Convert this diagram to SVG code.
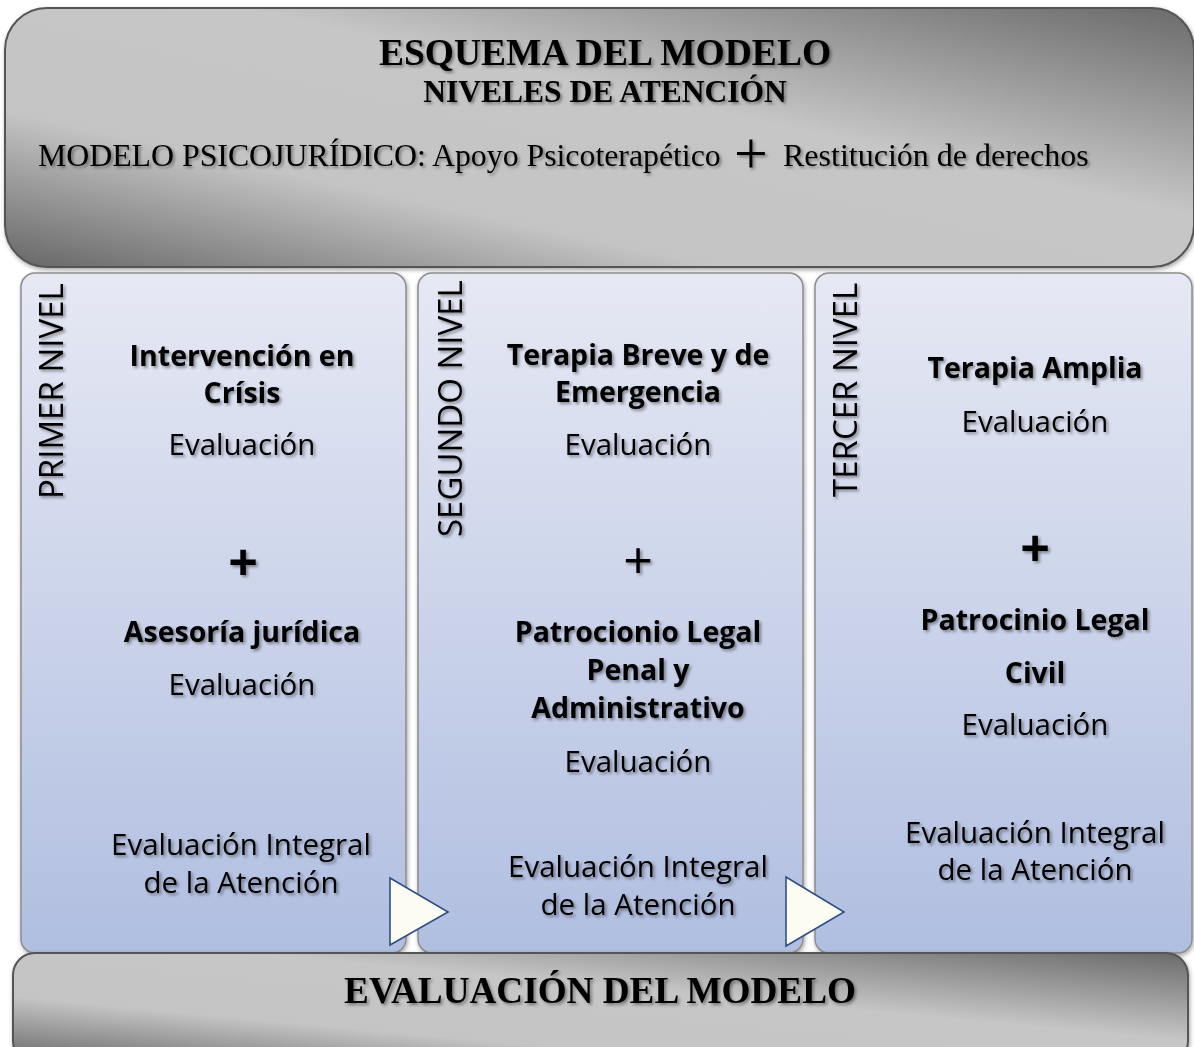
<svg xmlns="http://www.w3.org/2000/svg" width="1194" height="1047" viewBox="0 0 1194 1047">
<defs>
<linearGradient id="gray" x1="0" y1="1" x2="1" y2="0">
<stop offset="0" stop-color="#666"/>
<stop offset="0.3" stop-color="#c4c4c4"/>
<stop offset="0.6" stop-color="#c6c6c6"/>
<stop offset="1" stop-color="#6a6a6a"/>
</linearGradient>
<linearGradient id="blue" x1="0" y1="0" x2="0" y2="1">
<stop offset="0" stop-color="#e6e9f4"/>
<stop offset="1" stop-color="#b0bee0"/>
</linearGradient>
<filter id="boxsh" x="-5%" y="-5%" width="110%" height="115%">
<feDropShadow dx="1" dy="2" stdDeviation="2" flood-color="#000" flood-opacity="0.35"/>
</filter>
<filter id="txtsh" x="-10%" y="-30%" width="120%" height="160%">
<feDropShadow dx="2" dy="2" stdDeviation="1.6" flood-color="#000" flood-opacity="0.4"/>
</filter>
</defs>
<style>
.big{fill:url(#gray);stroke:#555;stroke-width:2}
.col{fill:url(#blue);stroke:#8c8c8c;stroke-width:1.5}
.tri{fill:#fdfcf3;stroke:#2e5085;stroke-width:1.6}
.ser{font-family:"Liberation Serif","Times New Roman",serif;fill:#000}
.sb{font-weight:bold}
.sans{font-family:"Open Sans","Liberation Sans",sans-serif;fill:#000;text-anchor:middle;font-size:29.5px}
.b{font-weight:bold;font-size:28.5px}
.plus{font-size:52px}
.vert{font-family:"Open Sans","Liberation Sans",sans-serif;fill:#000;font-size:33px}
.sh{filter:url(#txtsh)}
</style>

<g id="header">
<rect class="big" x="5" y="8" width="1189" height="259" rx="42" filter="url(#boxsh)"/>
<g class="sh">
<text class="ser sb" x="605" y="65" font-size="37.5" text-anchor="middle">ESQUEMA DEL MODELO</text>
<text class="ser sb" x="605" y="102" font-size="31.5" text-anchor="middle">NIVELES DE ATENCIÓN</text>
<text class="ser" x="38" y="166" font-size="31.8">MODELO PSICOJURÍDICO: Apoyo Psicoterapético</text>
<text class="ser" x="751" y="173" font-size="60" text-anchor="middle">+</text>
<text class="ser" x="783" y="166" font-size="32">Restitución de derechos</text>
</g>
</g>

<g id="nivel1">
<rect class="col" x="21" y="273" width="385" height="680" rx="14" filter="url(#boxsh)"/>
<g class="sh">
<text class="vert" transform="translate(63,499) rotate(-90)">PRIMER NIVEL</text>
<text class="sans b" x="242" y="366">Intervención en<tspan x="242" y="403">Crísis</tspan></text>
<text class="sans" x="242" y="455">Evaluación</text>
<text class="sans b plus" x="243" y="581">+</text>
<text class="sans b" x="242" y="642">Asesoría jurídica</text>
<text class="sans" x="242" y="695">Evaluación</text>
<text class="sans" x="241" y="855">Evaluación Integral<tspan x="241" y="893">de la Atención</tspan></text>
</g>
</g>

<g id="nivel2">
<rect class="col" x="418" y="273" width="385" height="680" rx="14" filter="url(#boxsh)"/>
<g class="sh">
<text class="vert" transform="translate(462,537) rotate(-90)">SEGUNDO NIVEL</text>
<text class="sans b" x="638" y="365">Terapia Breve y de<tspan x="638" y="402">Emergencia</tspan></text>
<text class="sans" x="638" y="455">Evaluación</text>
<text class="sans plus" x="638" y="579">+</text>
<text class="sans b" x="638" y="642">Patrocionio Legal<tspan x="638" y="680">Penal y</tspan><tspan x="638" y="718">Administrativo</tspan></text>
<text class="sans" x="638" y="772">Evaluación</text>
<text class="sans" x="638" y="877">Evaluación Integral<tspan x="638" y="915">de la Atención</tspan></text>
</g>
</g>

<g id="nivel3">
<rect class="col" x="815" y="273" width="377" height="680" rx="14" filter="url(#boxsh)"/>
<g class="sh">
<text class="vert" transform="translate(857,497) rotate(-90)">TERCER NIVEL</text>
<text class="sans b" x="1035" y="378">Terapia Amplia</text>
<text class="sans" x="1035" y="432">Evaluación</text>
<text class="sans b plus" x="1035" y="567">+</text>
<text class="sans b" x="1035" y="630">Patrocinio Legal<tspan x="1035" y="683">Civil</tspan></text>
<text class="sans" x="1035" y="735">Evaluación</text>
<text class="sans" x="1035" y="843">Evaluación Integral<tspan x="1035" y="880">de la Atención</tspan></text>
</g>
</g>

<g id="connectors">
<polygon class="tri" points="390,878 448,912 390,945"/>
<polygon class="tri" points="786,877 844,912 786,946"/>
</g>

<g id="evaluacion">
<rect class="big" x="13" y="953" width="1175" height="110" rx="22" filter="url(#boxsh)"/>
<text class="ser sb sh" x="600" y="1003" font-size="37.2" text-anchor="middle">EVALUACIÓN DEL MODELO</text>
</g>
</svg>
